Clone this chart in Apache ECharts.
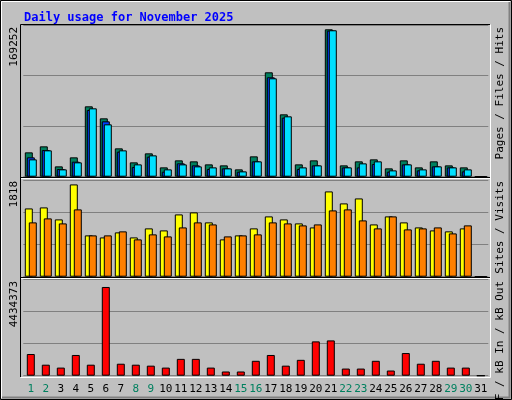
<!DOCTYPE html>
<html>
<head>
<meta charset="utf-8">
<script src="https://cdn.jsdelivr.net/npm/echarts@6/dist/echarts.min.js"></script>
<style>
  html, body { margin: 0; padding: 0; background: #c0c0c0; }
  #chart { width: 512px; height: 400px; }
</style>
</head>
<body>
<div id="chart"></div>
<script>
// day numbers and weekend days (shown in green)
const days = ['1','2','3','4','5','6','7','8','9','10','11','12','13','14','15','16','17','18','19','20','21','22','23','24','25','26','27','28','29','30','31']
const weekend = ['1','2','8','9','15','16','22','23','29','30']

// top panel
const hits  = [27959,34853,11873,22214,80813,67025,32555,16469,26810,10724,18767,17618,14171,13022,8426,23363,119879,71621,14171,18767,169252,13022,17618,19916,9575,18767,10724,17618,13022,10724,0]
const files = [22214,30640,8809,17235,76600,63578,28725,11107,22980,5745,15320,13022,8809,9575,5745,17618,114134,67791,8809,13022,167754,10724,10724,14554,5745,14171,7277,11873,10724,6128,0]
const pages = [19916,30257,8426,16469,78515,60131,30257,14171,24512,8426,14171,11873,10724,9575,6128,17618,112985,69323,10724,13022,168137,10724,15320,17618,7277,14171,8426,11873,10724,8426,0]

// middle panel
const visits = [1345,1365,1129,1818,814,774,873,774,952,912,1227,1267,1070,735,814,952,1188,1129,1050,971,1680,1444,1542,1030,1188,1070,971,912,893,952,0]
const sites  = [1070,1149,1050,1326,814,814,893,735,834,794,971,1070,1030,794,814,834,1070,1050,1011,1030,1306,1326,1109,952,1188,932,952,971,853,1011,0]

// bottom panel
const kbF = [1084328,550256,404600,1035776,550256,4434373,598808,550256,501704,404600,841568,841568,404600,210392,210392,744464,1035776,501704,793016,1715504,1764056,356048,356048,744464,258944,1132880,598808,744464,404600,404600,0]

const topMax = 174201, midMax = 1905, botMax = 4808301

const chart = echarts.init(document.getElementById('chart'))
const mono = 'DejaVu Sans Mono'
const L = 23.3, R = 23.7

function yAx(idx, max) {
  return {
    gridIndex: idx, min: 0, max: max, interval: max / 3,
    axisLabel: { show: false }, axisLine: { show: false }, axisTick: { show: false },
    splitLine: { show: true, lineStyle: { color: '#808080', width: 1 } }
  }
}
function xAx(idx, show) {
  return {
    gridIndex: idx, type: 'category', data: days,
    axisLine: { show: false }, axisTick: { show: false },
    axisLabel: show ? {
      interval: 0, margin: 8, fontFamily: mono, fontSize: 11,
      formatter: v => weekend.includes(v) ? '{w|' + v + '}' : '{d|' + v + '}',
      rich: { w: { color: '#00805f', fontFamily: mono, fontSize: 11 }, d: { color: '#000', fontFamily: mono, fontSize: 11 } }
    } : { show: false }
  }
}
function bar(name, data, color, idx, gap) {
  return {
    name: name, type: 'bar', data: data, xAxisIndex: idx, yAxisIndex: idx,
    barWidth: 8, barGap: gap, silent: true, animation: false,
    itemStyle: { color: color, borderColor: '#000', borderWidth: 1 }
  }
}
function vtext(x, y, rich, text, align) {
  return {
    type: 'text', x: x, y: y, rotation: Math.PI / 2,
    style: { text: text, rich: rich, align: align, verticalAlign: 'middle', fontFamily: mono, fontSize: 11 }
  }
}
const rc = c => ({ color: c, fontFamily: mono, fontSize: 11 })

chart.setOption({
  backgroundColor: '#c0c0c0',
  title: {
    text: 'Daily usage for November 2025', left: 19, top: 7,
    textStyle: { color: '#0000ff', fontFamily: mono, fontWeight: 'bold', fontSize: 12 }
  },
  grid: [
    { left: L, right: R, top: 25, height: 151.7 },
    { left: L, right: R, top: 180, height: 96.7 },
    { left: L, right: R, top: 279.5, height: 96.2 }
  ],
  xAxis: [xAx(0, false), xAx(1, false), xAx(2, true)],
  yAxis: [yAx(0, topMax), yAx(1, midMax), yAx(2, botMax)],
  series: [
    bar('Hits', hits, '#00805f', 0, '-75%'),
    bar('Files', files, '#0040ff', 0, '-75%'),
    bar('Pages', pages, '#00e0ff', 0, '-75%'),
    bar('Visits', visits, '#ffff00', 1, '-50%'),
    bar('Sites', sites, '#ff8000', 1, '-50%'),
    bar('kB F', kbF, '#ff0000', 2, '-50%')
  ],
  graphic: [
    // outer frame
    { type: 'rect', shape: { x: 0.5, y: 0.5, width: 511, height: 399 }, style: { fill: null, stroke: '#000' }, silent: true },
    { type: 'polyline', shape: { points: [[1.5, 398], [1.5, 1.5], [510, 1.5]] }, style: { stroke: '#fff', fill: null }, silent: true },
    { type: 'polyline', shape: { points: [[2, 397.5], [509.5, 397.5], [509.5, 2]] }, style: { stroke: '#808080', fill: null, lineWidth: 2 }, silent: true },
    // plot frame
    { type: 'polyline', shape: { points: [[20.5, 377], [20.5, 24.5], [490, 24.5]] }, style: { stroke: '#000', fill: null }, silent: true },
    { type: 'polyline', shape: { points: [[20.5, 377.5], [490.5, 377.5], [490.5, 24.5]] }, style: { stroke: '#fff', fill: null }, silent: true },
    // separators
    { type: 'line', shape: { x1: 21, y1: 177.5, x2: 490, y2: 177.5 }, style: { stroke: '#000' }, silent: true },
    { type: 'line', shape: { x1: 21, y1: 178.5, x2: 490, y2: 178.5 }, style: { stroke: '#fff' }, silent: true },
    { type: 'line', shape: { x1: 21, y1: 277.5, x2: 490, y2: 277.5 }, style: { stroke: '#000' }, silent: true },
    { type: 'line', shape: { x1: 21, y1: 278.5, x2: 490, y2: 278.5 }, style: { stroke: '#fff' }, silent: true },
    // left max labels
    vtext(14, 27, {}, '169252', 'right'),
    vtext(14, 181, {}, '1818', 'right'),
    vtext(14, 281, {}, '4434373', 'right'),
    // right legends
    vtext(500, 27, { p: rc('#00e0ff'), f: rc('#0040ff'), h: rc('#00805f'), s: rc('#000') },
      '{p|Pages}{s| / }{f|Files}{s| / }{h|Hits}', 'right'),
    vtext(500, 181, { v: rc('#ffff00'), t: rc('#ff8000'), s: rc('#000') },
      '{t|Sites}{s| / }{v|Visits}', 'right'),
    vtext(500, 281, { a: rc('#ff0000'), b: rc('#0080ff'), c: rc('#00c000'), s: rc('#000') },
      '{a|kB F}{s| / }{b|kB In}{s| / }{c|kB Out}', 'right')
  ]
})
</script>
</body>
</html>
